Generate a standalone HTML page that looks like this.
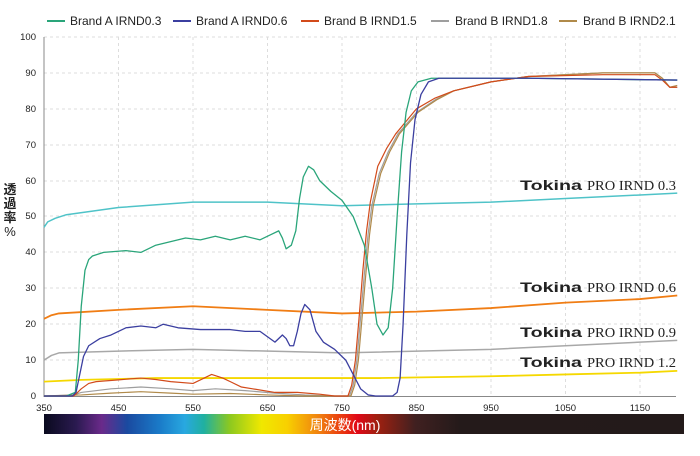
<!DOCTYPE html>
<html><head><meta charset="utf-8"><style>
html,body{margin:0;padding:0;background:#fff;width:700px;height:456px;overflow:hidden}
svg{display:block}
text{font-family:"Liberation Sans","Noto Sans CJK JP",sans-serif}
text.serif{font-family:"Liberation Serif",serif}
</style></head><body>
<svg width="700" height="456" viewBox="0 0 700 456" xmlns="http://www.w3.org/2000/svg">
<defs>
<linearGradient id="sp" x1="0" x2="1" y1="0" y2="0">
<stop offset="0" stop-color="#0a0a1e"/>
<stop offset="0.05" stop-color="#2a1a50"/>
<stop offset="0.09" stop-color="#6a2a8a"/>
<stop offset="0.13" stop-color="#1a4aa0"/>
<stop offset="0.18" stop-color="#1a7ac8"/>
<stop offset="0.22" stop-color="#28a8e0"/>
<stop offset="0.25" stop-color="#20b0a0"/>
<stop offset="0.29" stop-color="#8cc820"/>
<stop offset="0.34" stop-color="#f0e800"/>
<stop offset="0.38" stop-color="#f8d000"/>
<stop offset="0.43" stop-color="#f08010"/>
<stop offset="0.47" stop-color="#e83010"/>
<stop offset="0.49" stop-color="#e00818"/>
<stop offset="0.52" stop-color="#a02010"/>
<stop offset="0.58" stop-color="#402020"/>
<stop offset="0.65" stop-color="#241a1a"/>
<stop offset="1" stop-color="#231a1a"/>
</linearGradient>
</defs>
<g font-size="12" fill="#222">
<line x1="47" y1="21" x2="65" y2="21" stroke="#2aa57a" stroke-width="2"/><text x="70" y="25">Brand A IRND0.3</text>
<line x1="173" y1="21" x2="191" y2="21" stroke="#3b3fa0" stroke-width="2"/><text x="196" y="25">Brand A IRND0.6</text>
<line x1="301" y1="21" x2="319" y2="21" stroke="#d24a1a" stroke-width="2"/><text x="324" y="25">Brand B IRND1.5</text>
<line x1="431" y1="21" x2="449" y2="21" stroke="#9e9e9e" stroke-width="2"/><text x="455" y="25">Brand B IRND1.8</text>
<line x1="559" y1="21" x2="577" y2="21" stroke="#b08a4a" stroke-width="2"/><text x="583" y="25">Brand B IRND2.1</text>
</g>
<g stroke="#ddd" stroke-dasharray="3,3" stroke-width="1">
<line x1="44" x2="676" y1="37" y2="37"/><line x1="44" x2="676" y1="73" y2="73"/><line x1="44" x2="676" y1="109" y2="109"/><line x1="44" x2="676" y1="145" y2="145"/><line x1="44" x2="676" y1="181" y2="181"/><line x1="44" x2="676" y1="216" y2="216"/><line x1="44" x2="676" y1="252" y2="252"/><line x1="44" x2="676" y1="288" y2="288"/><line x1="44" x2="676" y1="324" y2="324"/><line x1="44" x2="676" y1="360" y2="360"/>
<line x1="118.5" x2="118.5" y1="37" y2="396"/><line x1="193" x2="193" y1="37" y2="396"/><line x1="267.5" x2="267.5" y1="37" y2="396"/><line x1="342" x2="342" y1="37" y2="396"/><line x1="416.5" x2="416.5" y1="37" y2="396"/><line x1="491" x2="491" y1="37" y2="396"/><line x1="565.5" x2="565.5" y1="37" y2="396"/><line x1="640" x2="640" y1="37" y2="396"/>
</g>
<line x1="44" y1="37" x2="44" y2="397" stroke="#888" stroke-width="1"/>
<line x1="44" y1="396.5" x2="676" y2="396.5" stroke="#888" stroke-width="1"/>
<g font-size="9.5" fill="#222" text-anchor="end">
<text x="36" y="40">100</text><text x="36" y="76">90</text><text x="36" y="112">80</text><text x="36" y="148">70</text><text x="36" y="184">60</text><text x="36" y="219">50</text><text x="36" y="255">40</text><text x="36" y="291">30</text><text x="36" y="327">20</text><text x="36" y="363">10</text><text x="36" y="399">0</text>
</g>
<g font-size="9.5" fill="#222" text-anchor="middle">
<text x="44" y="411">350</text><text x="118.5" y="411">450</text><text x="193" y="411">550</text><text x="267.5" y="411">650</text><text x="342" y="411">750</text><text x="416.5" y="411">850</text><text x="491" y="411">950</text><text x="565.5" y="411">1050</text><text x="640" y="411">1150</text>
</g>
<g font-size="13" font-weight="bold" fill="#222" text-anchor="middle">
<text x="10" y="194">透</text><text x="10" y="208">過</text><text x="10" y="222">率</text><text x="10" y="236" font-weight="normal">%</text>
</g>
<g fill="#222">
<text x="520" y="190" font-size="14" font-weight="bold" textLength="62" lengthAdjust="spacingAndGlyphs">Tokina</text><text class="serif" style="font-family:'Liberation Serif',serif" x="587" y="190" font-size="14" textLength="89" lengthAdjust="spacingAndGlyphs">PRO IRND 0.3</text>
<text x="520" y="292" font-size="14" font-weight="bold" textLength="62" lengthAdjust="spacingAndGlyphs">Tokina</text><text class="serif" style="font-family:'Liberation Serif',serif" x="587" y="292" font-size="14" textLength="89" lengthAdjust="spacingAndGlyphs">PRO IRND 0.6</text>
<text x="520" y="337" font-size="14" font-weight="bold" textLength="62" lengthAdjust="spacingAndGlyphs">Tokina</text><text class="serif" style="font-family:'Liberation Serif',serif" x="587" y="337" font-size="14" textLength="89" lengthAdjust="spacingAndGlyphs">PRO IRND 0.9</text>
<text x="520" y="367" font-size="14" font-weight="bold" textLength="62" lengthAdjust="spacingAndGlyphs">Tokina</text><text class="serif" style="font-family:'Liberation Serif',serif" x="587" y="367" font-size="14" textLength="89" lengthAdjust="spacingAndGlyphs">PRO IRND 1.2</text>
</g>
<g transform="translate(44,396) scale(0.745,-3.59) translate(-350,0)" fill="none" stroke-linejoin="round">
<polyline vector-effect="non-scaling-stroke" stroke="#4fc3c8" stroke-width="1.5" points="350,47 355,48.5 365,49.5 380,50.5 450,52.5 550,54 650,54 750,53 850,53.5 950,54 1050,55 1150,56 1200,56.5"/>
<polyline vector-effect="non-scaling-stroke" stroke="#f07d14" stroke-width="1.8" points="350,21.5 360,22.5 370,23 450,24 550,25 650,24 750,23 850,23.5 950,24.5 1050,26 1150,27 1200,28"/>
<polyline vector-effect="non-scaling-stroke" stroke="#a8a8a8" stroke-width="1.5" points="350,10 360,11.3 370,12 450,12.5 550,13 750,12 950,13 1050,14 1150,15 1200,15.5"/>
<polyline vector-effect="non-scaling-stroke" stroke="#f5d800" stroke-width="1.8" points="350,4 400,4.5 500,5 800,5 950,5.5 1050,6 1150,6.5 1200,7"/>
<polyline vector-effect="non-scaling-stroke" stroke="#9e9e9e" stroke-width="1.2" points="350,0 390,0.3 400,1 440,2 480,2.5 520,2 550,1.5 580,2 620,1.5 660,0.8 700,0.3 740,0 760,0 765,3 770,10 775,22 780,34 785,45 790,53 800,62 812,68 825,73 850,79 875,82.5 900,85 950,87.5 1000,89 1100,90 1170,90 1180,88.5 1190,86 1200,86"/>
<polyline vector-effect="non-scaling-stroke" stroke="#b08a4a" stroke-width="1.2" points="350,0 400,0.3 440,0.8 480,1.2 520,0.8 550,0.5 600,0.7 650,0.3 700,0 762,0 767,3 772,10 777,22 782,34 787,45 792,53 802,62 814,68 827,73 852,79 877,82.5 900,85 950,87.5 1000,89 1100,90 1170,90 1180,88.5 1190,86 1200,86.5"/>
<polyline vector-effect="non-scaling-stroke" stroke="#d24a1a" stroke-width="1.2" points="350,0 390,0 395,1 400,2 410,3.5 420,4 450,4.5 480,5 500,4.6 520,4 550,3.5 565,5 575,6 590,5 600,4 615,2.5 630,2 660,1 690,1 720,0.5 740,0 758,0 763,3 768,10 773,22 778,35 783,46 788,54 798,64 810,69 822,73 850,80 875,83 900,85 950,87.5 1000,89 1100,89.5 1170,89.5 1180,88 1190,86 1200,86"/>
<polyline vector-effect="non-scaling-stroke" stroke="#2aa57a" stroke-width="1.3" points="350,0 380,0 392,1 396,10 400,25 405,35 410,38 415,39 430,40 460,40.5 480,40 500,42 540,44 560,43.5 580,44.5 600,43.5 620,44.5 640,43.5 655,45 665,46 670,44 675,41 682,42 688,46 693,55 698,61 705,64 712,63 720,60 735,57 750,54.5 765,50 780,42 790,30 797,20 805,17 812,19 818,30 824,50 830,68 836,79 843,85 852,87.5 870,88.5 900,88.5 1000,88.5 1200,88"/>
<polyline vector-effect="non-scaling-stroke" stroke="#3b3fa0" stroke-width="1.3" points="350,0 388,0 393,1 398,6 403,11 410,14 425,16 440,17 460,19 480,19.5 500,19 510,20 530,19 560,18.5 600,18.5 620,18 640,18 650,16.5 660,15 670,17 675,16 680,14 685,14 690,18 695,23 700,25.5 707,24 715,18 725,15 740,13 755,10 765,6 775,2 785,0.3 795,0 818,0 824,1 828,5 832,20 837,45 842,65 848,77 856,84 866,87.5 880,88.5 1000,88.5 1200,88"/>
</g>
<rect x="44" y="414" width="640" height="20" fill="url(#sp)"/>
<text x="345" y="430" font-size="14" fill="#fff" text-anchor="middle">周波数(nm)</text>
</svg>
</body></html>
